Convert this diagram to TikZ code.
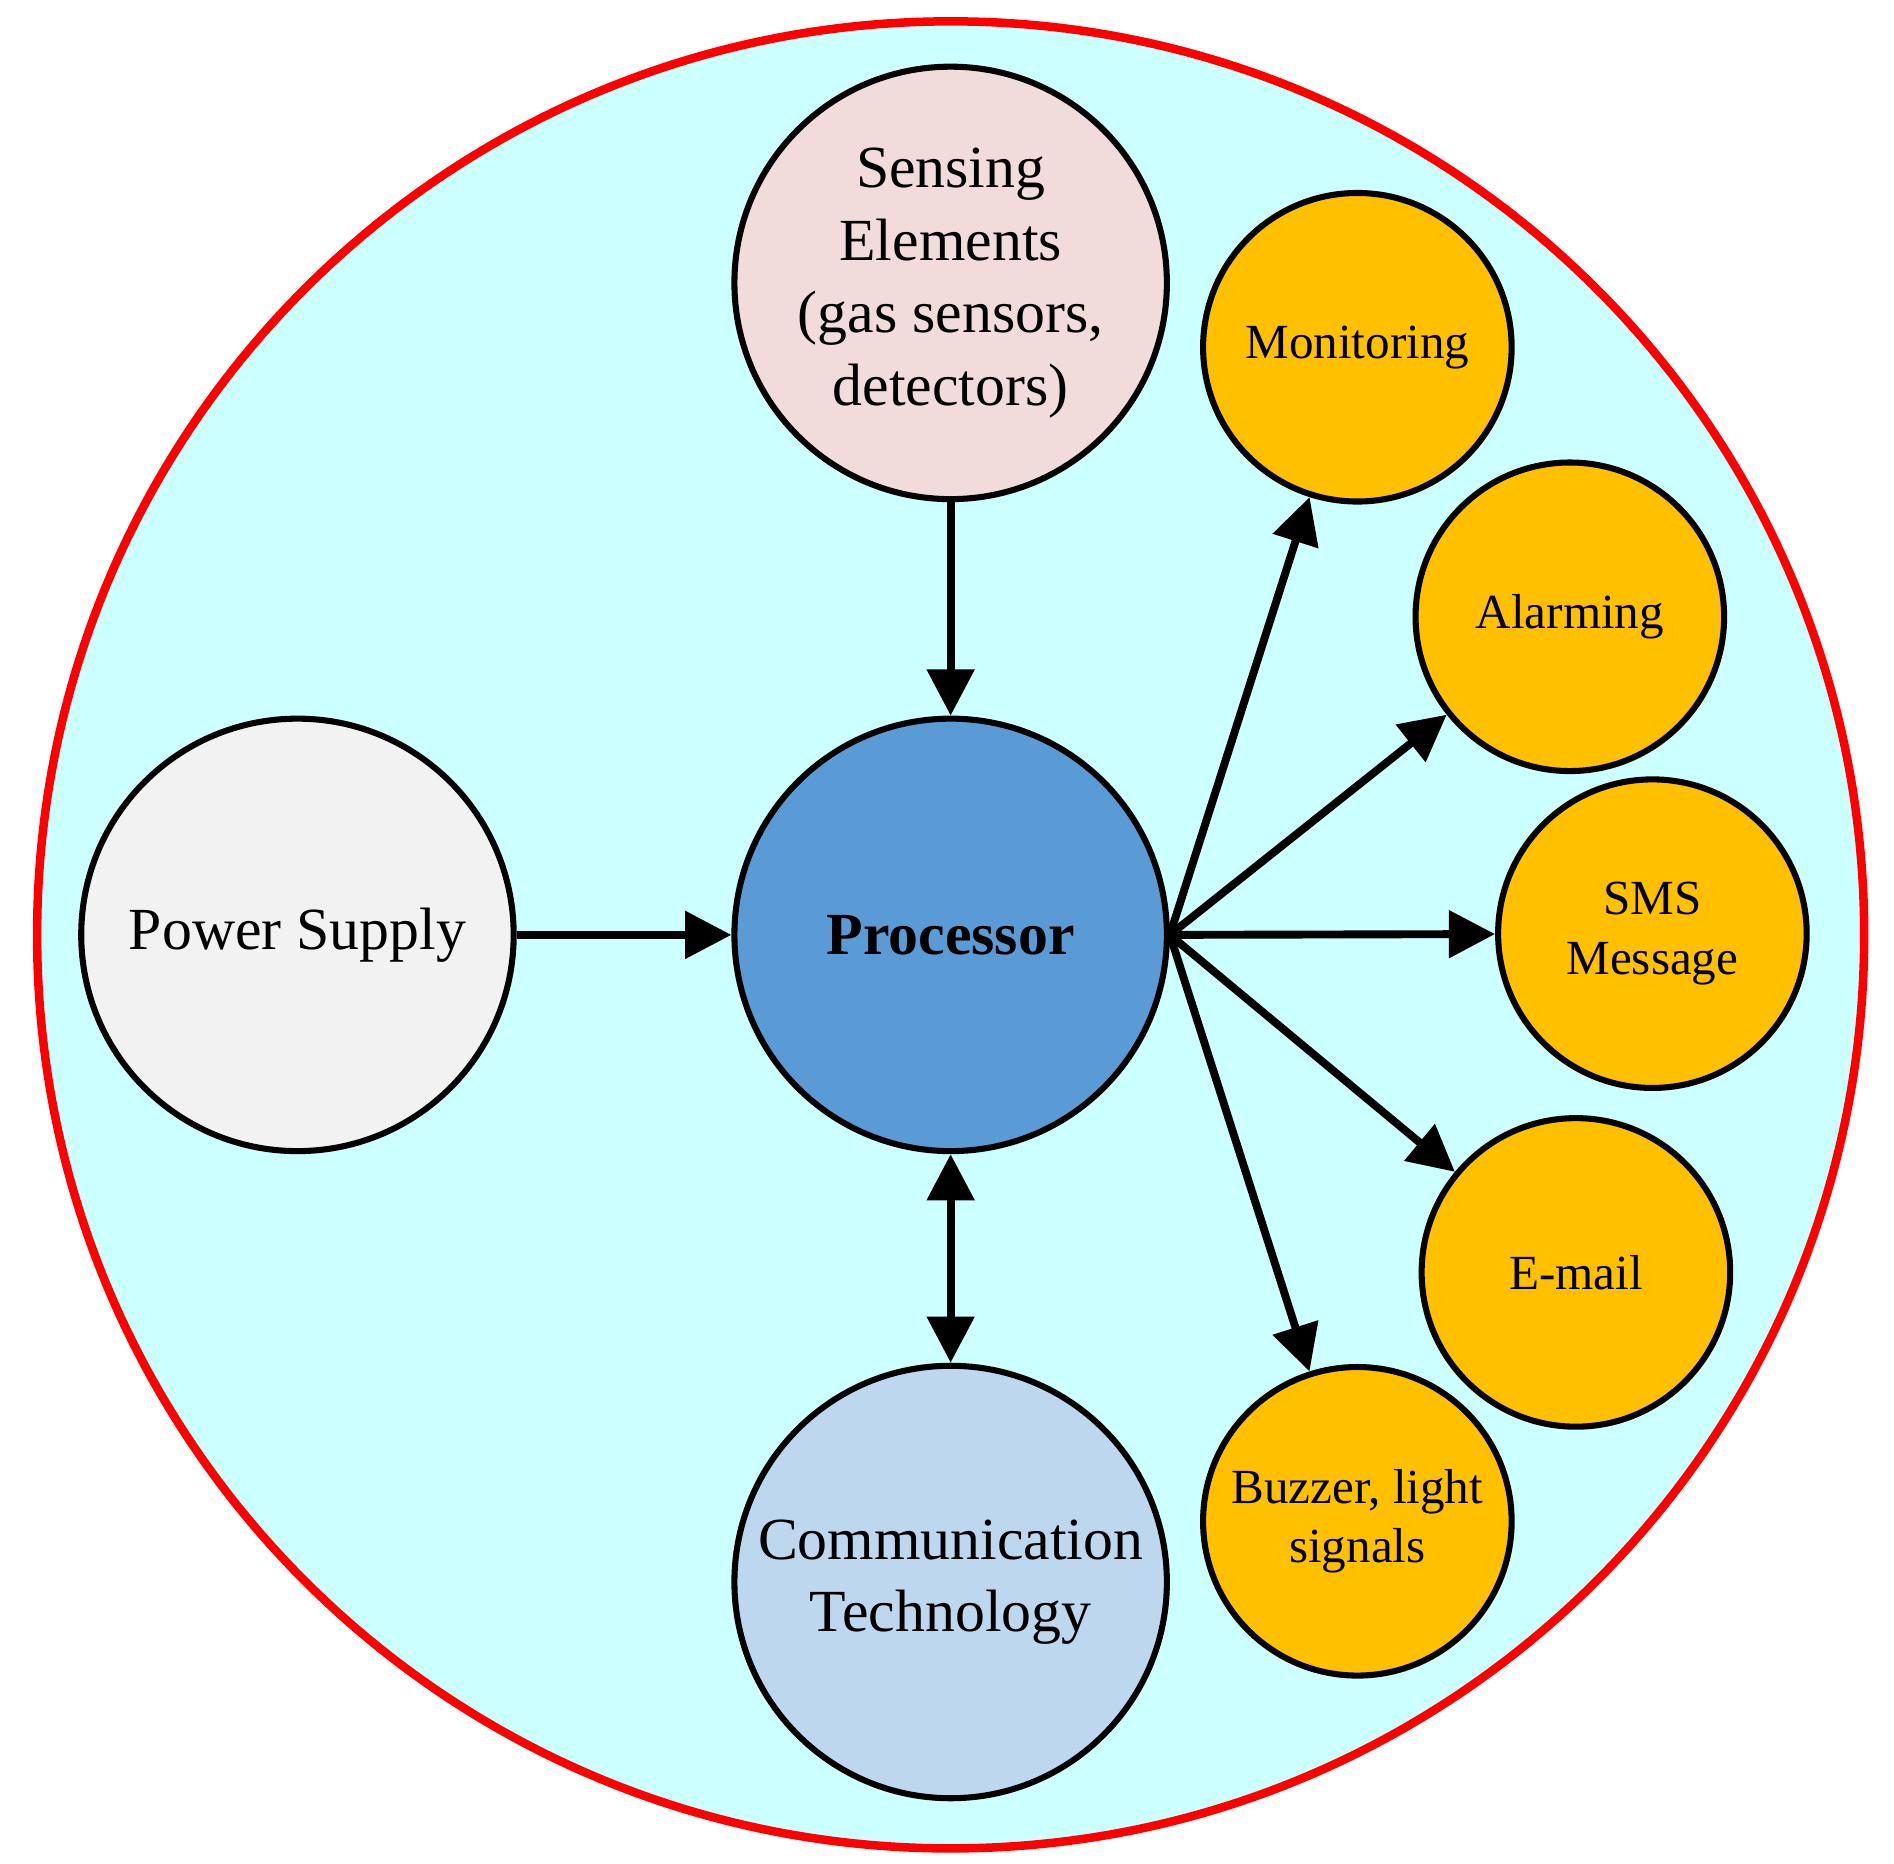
\documentclass[tikz,border=0pt]{standalone}
\usepackage{fontspec}
\setmainfont{Liberation Serif}
\usetikzlibrary{arrows.meta}
\begin{document}
\begin{tikzpicture}[x=0.01cm,y=-0.01cm,
  big/.style={circle,draw=black,line width=0.05cm,minimum size=3.56cm,inner sep=0pt,align=center,font=\fontsize{14}{17}\selectfont},
  small/.style={circle,draw=black,line width=0.05cm,minimum size=2.54cm,inner sep=0pt,align=center,fill={rgb,255:red,255;green,192;blue,0},font=\fontsize{11.5}{14}\selectfont},
  arr/.style={line width=0.065cm,-{Triangle[length=0.38cm,width=0.38cm]}}]
\useasboundingbox (0,0) rectangle (1560,1535);
\node[circle,draw={rgb,255:red,255;green,0;blue,0},line width=0.07cm,fill={rgb,255:red,204;green,255;blue,255},minimum size=15.04cm,inner sep=0pt] (O) at (783,770) {};
\node[big,fill={rgb,255:red,91;green,155;blue,213},font=\fontsize{14}{17}\selectfont\bfseries] (P) at (783,770) {Processor};
\node[big,fill={rgb,255:red,242;green,220;blue,219}] (S) at (783,233) {Sensing\\Elements\\(gas sensors,\\detectors)};
\node[big,fill={rgb,255:red,242;green,242;blue,242}] (W) at (245,770) {Power Supply};
\node[big,fill={rgb,255:red,189;green,215;blue,238}] (C) at (783,1303) {Communication\\Technology};
\node[small] (M) at (1118,286) {Monitoring};
\node[small] (A) at (1293,508) {Alarming};
\node[small] (T) at (1361,769) {SMS\\Message};
\node[small] (E) at (1298,1048) {E-mail};
\node[small] (B) at (1118,1253) {Buzzer, light\\signals};
\draw[arr] (S) -- (P);
\draw[arr] (W) -- (P);
\draw[arr,{Triangle[length=0.38cm,width=0.38cm]}-{Triangle[length=0.38cm,width=0.38cm]}] (P) -- (C);
\foreach \n in {M,A,T,E,B} \draw[arr] (P.east) -- (\n);
\end{tikzpicture}
\end{document}
